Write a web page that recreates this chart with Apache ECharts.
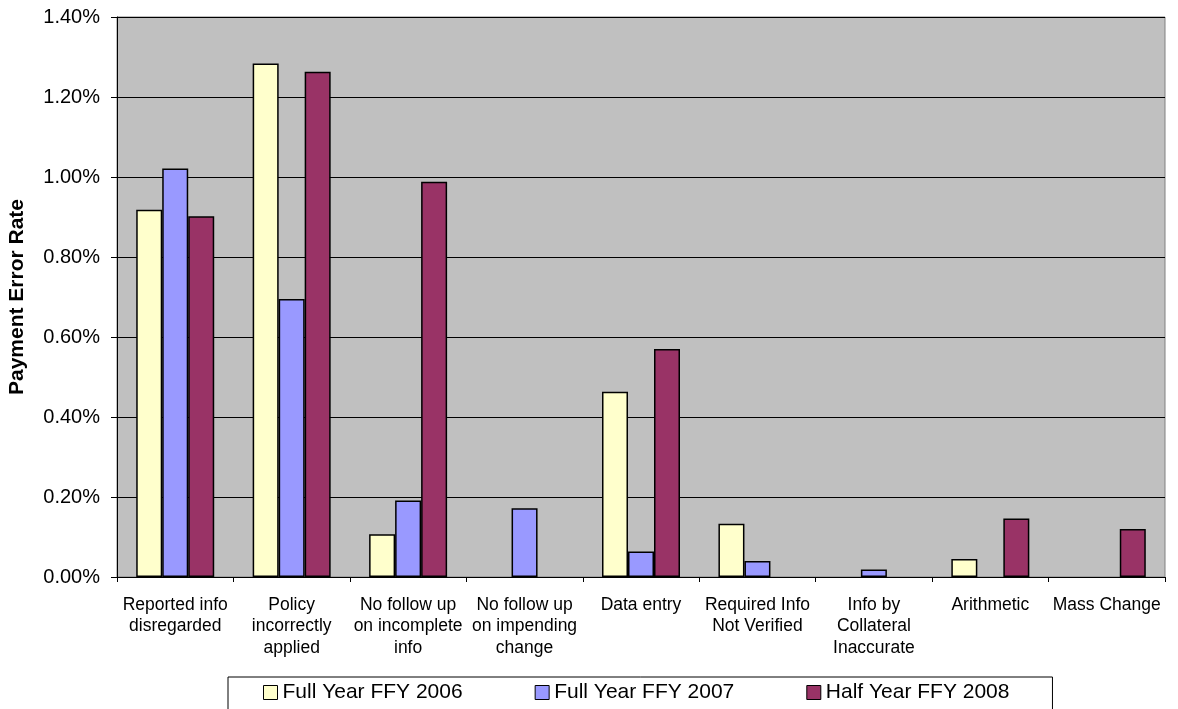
<!DOCTYPE html>
<html>
<head>
<meta charset="utf-8">
<script src="https://cdn.jsdelivr.net/npm/echarts@6/dist/echarts.min.js"></script>
<style>
  html, body { margin: 0; padding: 0; background: #fff; }
  #chart { width: 1178px; height: 709px; }
</style>
</head>
<body>
<div id="chart"></div>
<script>
// error categories (x axis)
const categories = [
  'Reported info\ndisregarded',
  'Policy\nincorrectly\napplied',
  'No follow up\non incomplete\ninfo',
  'No follow up\non impending\nchange',
  'Data entry',
  'Required Info\nNot Verified',
  'Info by\nCollateral\nInaccurate',
  'Arithmetic',
  'Mass Change'
]

const seriesNames = ['Full Year FFY 2006', 'Full Year FFY 2007', 'Half Year FFY 2008']

// payment error rate, percent
const fy2006 = [0.918, 1.284, 0.107, null, 0.463, 0.133, null, 0.045, null]
const fy2007 = [1.021, 0.695, 0.191, 0.172, 0.064, 0.040, 0.019, null, null]
const fy2008 = [0.902, 1.263, 0.988, null, 0.570, null, null, 0.146, 0.120]

const colors = ['#FFFFCC', '#9999FF', '#993366']

const chart = echarts.init(document.getElementById('chart'))

function barSeries(name, data, color) {
  return {
    name: name,
    type: 'bar',
    data: data,
    barWidth: 26,
    barGap: '0%',
    itemStyle: {
      color: color,
      borderColor: '#000',
      borderWidth: 1.5
    }
  }
}

const option = {
  animation: false,
  textStyle: { fontFamily: 'Liberation Sans, Arial, sans-serif' },
  grid: {
    left: 117,
    right: 13,
    top: 17,
    bottom: 132,
    outerBoundsMode: 'none',
    containLabel: false,
    show: true,
    backgroundColor: '#C0C0C0',
    borderColor: '#808080',
    borderWidth: 1
  },
  legend: {
    left: 228,
    top: 677,
    padding: [5, 43, 12, 35],
    itemGap: 72,
    itemWidth: 14,
    itemHeight: 14,
    icon: 'rect',
    borderColor: '#000',
    borderWidth: 1,
    backgroundColor: '#fff',
    textStyle: { fontSize: 21, color: '#000' },
    itemStyle: { borderColor: '#000', borderWidth: 1 },
    data: seriesNames
  },
  xAxis: {
    type: 'category',
    data: categories,
    axisLine: { lineStyle: { color: '#000', width: 1 } },
    axisTick: { show: true, length: 5, lineStyle: { color: '#000' } },
    axisLabel: {
      color: '#000',
      fontSize: 17.5,
      lineHeight: 21.5,
      margin: 17,
      interval: 0
    }
  },
  yAxis: {
    type: 'value',
    min: 0,
    max: 1.4,
    interval: 0.2,
    name: 'Payment Error Rate',
    nameLocation: 'middle',
    nameGap: 89,
    nameTextStyle: { fontSize: 21, fontWeight: 'bold', color: '#000' },
    axisLine: { show: true, lineStyle: { color: '#000' } },
    axisTick: { show: true, length: 6, lineStyle: { color: '#000' } },
    axisLabel: {
      color: '#000',
      fontSize: 20,
      margin: 17,
      formatter: function (v) { return v.toFixed(2) + '%' }
    },
    splitLine: { lineStyle: { color: '#000', width: 1 } }
  },
  series: [
    barSeries(seriesNames[0], fy2006, colors[0]),
    barSeries(seriesNames[1], fy2007, colors[1]),
    barSeries(seriesNames[2], fy2008, colors[2])
  ]
}

chart.setOption(option)
</script>
</body>
</html>
